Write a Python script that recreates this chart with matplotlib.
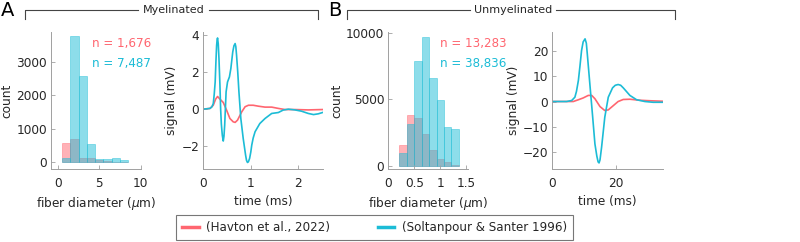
import matplotlib
matplotlib.use("Agg")
import matplotlib.pyplot as plt
import numpy as np
from matplotlib.lines import Line2D

W, H = 800, 242
RED = "#ff6670"
BLUE = "#1cbcd6"
AXC = "#a0a0a0"
TXT = "#262626"
FS = 8.7

plt.rcParams["font.family"] = ["DejaVu Sans"]
plt.rcParams["font.size"] = FS
plt.rcParams["mathtext.fontset"] = "dejavusans"

# myelinated fiber diameter histograms (um)
myel_edges = [0.5, 1.5, 2.5, 3.5, 4.5, 5.5, 6.5, 7.5, 8.5]
myel_havton = [570, 690, 120, 120, 70, 40, 20, 10]
myel_soltan = [120, 3790, 2590, 550, 100, 90, 140, 70]

# unmyelinated fiber diameter histograms (um)
unmyel_edges = [0.215, 0.3575, 0.5, 0.6425, 0.785, 0.9275, 1.07, 1.2125, 1.355]
unmyel_havton = [1550, 3800, 3600, 2350, 1200, 500, 250, 30]
unmyel_soltan = [950, 3100, 7900, 9700, 6600, 4950, 2900, 2750]

n_labels = {"A": ("n = 1,676", "n = 7,487"), "B": ("n = 13,283", "n = 38,836")}

# myelinated signals (ms, mV)
myel_t_red = [0, 0.14, 0.21, 0.26, 0.30, 0.35, 0.42, 0.49, 0.56, 0.63, 0.67, 0.72,
              0.81, 0.88, 0.95, 1.05, 1.16, 1.30, 1.44, 1.58, 1.72, 1.93, 2.21, 2.51]
myel_v_red = [0, 0.04, 0.21, 0.54, 0.68, 0.54, 0.36, -0.05, -0.5, -0.68, -0.71, -0.59,
              -0.14, 0.13, 0.21, 0.21, 0.16, 0.11, 0.11, 0.04, -0.02, -0.02, -0.04, -0.02]
myel_t_blue = [0, 0.14, 0.18, 0.21, 0.23, 0.25, 0.265, 0.28, 0.29, 0.30, 0.315, 0.33,
               0.35, 0.365, 0.38, 0.40, 0.42, 0.435, 0.45, 0.48, 0.51, 0.55, 0.58, 0.62,
               0.645, 0.67, 0.685, 0.70, 0.725, 0.75, 0.79, 0.84, 0.89, 0.91, 0.93, 0.95,
               0.975, 1.0, 1.02, 1.05, 1.09, 1.19, 1.30, 1.44, 1.58, 1.68, 1.79, 1.93,
               2.07, 2.21, 2.32, 2.42, 2.51]
myel_v_blue = [0, 0.04, 0.12, 0.3, 0.8, 1.46, 2.5, 3.4, 3.7, 3.82, 3.5, 2.7,
               1.3, 0, -0.8, -1.4, -1.71, -1.45, -0.86, 0.93, 1.46, 1.73, 2.18, 3.07,
               3.4, 3.52, 3.35, 2.9, 2.0, 0.93, -0.5, -1.57, -2.46, -2.75, -2.86, -2.82,
               -2.64, -2.3, -1.93, -1.55, -1.21, -0.77, -0.5, -0.23, -0.18, -0.05, 0, -0.04,
               -0.11, -0.23, -0.29, -0.25, -0.18]

# unmyelinated signals (ms, mV)
unmyel_t_red = [0, 6.6, 8.2, 9.7, 11.3, 12.4, 13.4, 15.0, 16.5, 17.6, 19.2, 20.7,
                22.3, 24.4, 27.5, 30.7, 34.9]
unmyel_v_red = [0, 0, 0.7, 1.4, 2.4, 2.4, 1.1, -2.0, -3.55, -3.3, -1.6, 0,
                0.8, 0.9, 0.5, 0.3, 0.1]
unmyel_t_blue = [0, 4.5, 6.1, 7.1, 7.6, 8.2, 8.7, 9.2, 9.7, 10.3, 10.7, 11.0, 11.8,
                 12.7, 13.4, 14.0, 14.4, 14.7, 15.0, 15.5, 16.5, 17.6, 18.95, 19.8,
                 20.7, 21.5, 22.3, 24.4, 26.5, 29.1, 31.7, 34.9]
unmyel_v_blue = [0, 0, 0.4, 1.7, 4.0, 8.3, 14.0, 20.1, 23.5, 24.7, 23.0, 18.8, 7.0,
                 -6.2, -16.7, -21.5, -23.8, -24.2, -23.0, -18.0, -6.2, 1.7, 5.4, 6.4,
                 6.7, 6.4, 5.4, 2.4, 0.7, 0, -0.3, -0.3]

legend_labels = ["(Havton et al., 2022)", "(Soltanpour & Santer 1996)"]


def fx(x):
    return x / W


def fy(y):
    return 1 - y / H


def make_axes(fig, x0, x1, y0=32, y1=169):
    ax = fig.add_axes([fx(x0), fy(y1), fx(x1 - x0), (y1 - y0) / H])
    for s in ("top", "right"):
        ax.spines[s].set_visible(False)
    for s in ("left", "bottom"):
        ax.spines[s].set_color(AXC)
        ax.spines[s].set_linewidth(0.7)
    ax.tick_params(direction="in", length=3, width=0.6, color=AXC, labelcolor=TXT,
                   labelsize=FS)
    ax.tick_params(axis="x", pad=6)
    ax.tick_params(axis="y", pad=3)
    ax.patch.set_alpha(0)
    return ax


def draw_hist(ax, edges, red, blue):
    e = np.asarray(edges)
    w = np.diff(e)
    ax.bar(e[:-1], red, width=w, align="edge", color=RED, alpha=0.5,
           edgecolor=RED, linewidth=0.6)
    ax.bar(e[:-1], blue, width=w, align="edge", color=BLUE, alpha=0.5,
           edgecolor=BLUE, linewidth=0.6)
    ax.set_ylabel("count", color=TXT, fontsize=FS, labelpad=2)
    ax.set_xlabel(r"fiber diameter ($\mu$m)", color=TXT, fontsize=FS, labelpad=3)


def draw_signal(ax, tr, vr, tb, vb):
    ax.plot(tr, vr, color=RED, lw=1.2)
    ax.plot(tb, vb, color=BLUE, lw=1.2)
    ax.set_ylabel("signal (mV)", color=TXT, fontsize=FS, labelpad=2)
    ax.set_xlabel("time (ms)", color=TXT, fontsize=FS, labelpad=3)


def bracket(fig, x0, x1, tx0, tx1, label):
    kw = dict(color="#444444", lw=0.8, transform=fig.transFigure)
    fig.add_artist(Line2D([fx(x0), fx(x0), fx(tx0)], [fy(19), fy(10), fy(10)], **kw))
    fig.add_artist(Line2D([fx(tx1), fx(x1), fx(x1)], [fy(10), fy(10), fy(19)], **kw))
    fig.text(fx((tx0 + tx1) / 2), fy(10), label, ha="center", va="center",
             fontsize=8, color=TXT)


fig = plt.figure(figsize=(8, 2.42), dpi=100)

ax1 = make_axes(fig, 51, 140.5)
draw_hist(ax1, myel_edges, myel_havton, myel_soltan)
ax1.set_xlim(-0.85, 10)
ax1.set_ylim(-200, 3895)
ax1.set_xticks([0, 5, 10])
ax1.set_yticks([0, 1000, 2000, 3000])

ax2 = make_axes(fig, 203.3, 323)
draw_signal(ax2, myel_t_red, myel_v_red, myel_t_blue, myel_v_blue)
ax2.set_xlim(0, 2.52)
ax2.set_ylim(-3.21, 4.14)
ax2.set_xticks([0, 1, 2])
ax2.set_yticks([-2, 0, 2, 4])

ax3 = make_axes(fig, 388.3, 468)
draw_hist(ax3, unmyel_edges, unmyel_havton, unmyel_soltan)
ax3.set_xlim(0, 1.53)
ax3.set_ylim(-260, 10050)
ax3.set_xticks([0, 0.5, 1, 1.5])
ax3.set_xticklabels(["0", "0.5", "1", "1.5"])
ax3.set_yticks([0, 5000, 10000])

ax4 = make_axes(fig, 552.3, 663.3)
draw_signal(ax4, unmyel_t_red, unmyel_v_red, unmyel_t_blue, unmyel_v_blue)
ax4.set_xlim(0, 34.9)
ax4.set_ylim(-26.6, 27.4)
ax4.set_xticks([0, 20])
ax4.set_yticks([-20, -10, 0, 10, 20])

# n counts
for key, x in (("A", 92), ("B", 440)):
    r, b = n_labels[key]
    fig.text(fx(x), fy(43), r, color=RED, fontsize=8.6, va="center")
    fig.text(fx(x), fy(63), b, color=BLUE, fontsize=8.6, va="center")

bracket(fig, 25, 318, 138, 209, "Myelinated")
bracket(fig, 347, 675, 470, 556, "Unmyelinated")
fig.text(fx(1), fy(11), "A", fontsize=14, va="center", ha="left", color="black")
fig.text(fx(328), fy(11), "B", fontsize=14, va="center", ha="left", color="black")

handles = [Line2D([], [], color=RED, lw=2.5), Line2D([], [], color=BLUE, lw=2.5)]
leg = fig.legend(handles, legend_labels, ncol=2, loc="upper left",
                 bbox_to_anchor=(fx(176), fy(215)), frameon=True, fancybox=False,
                 fontsize=8.6, handlelength=1.4, handletextpad=0.6,
                 columnspacing=4.0, borderpad=0.5, borderaxespad=0)
leg.get_frame().set_edgecolor("#555555")
leg.get_frame().set_linewidth(0.8)
for t in leg.get_texts():
    t.set_color(TXT)

fig.savefig("out.png", dpi=100)
